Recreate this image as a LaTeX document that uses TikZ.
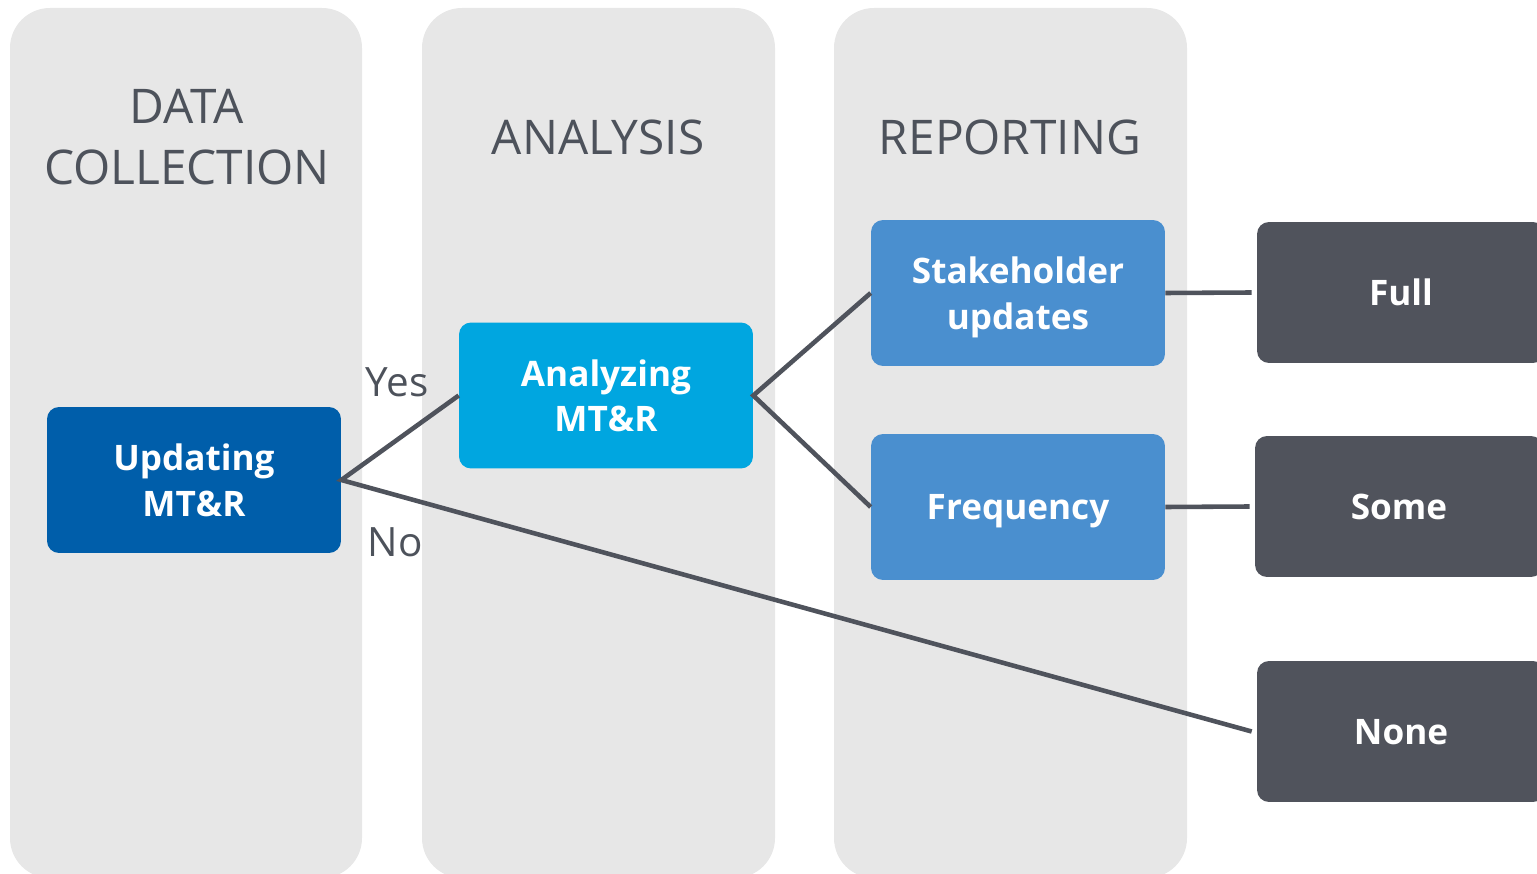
\documentclass[tikz,border=0pt]{standalone}
\usepackage{fontspec}
\setmainfont{Open Sans}
\definecolor{colbg}{HTML}{E7E7E7}
\definecolor{txtgray}{HTML}{4D525B}
\definecolor{dkbox}{HTML}{50535C}
\definecolor{lnc}{HTML}{4F535C}
\definecolor{dblue}{HTML}{005EAA}
\definecolor{cblue}{HTML}{00A6E0}
\definecolor{mblue}{HTML}{4A8FCF}
\tikzset{
  column/.style={fill=colbg, rounded corners=0.8cm},
  title/.style={text=txtgray, font=\fontsize{27.2}{34.6}\selectfont, align=center},
  box/.style={rounded corners=0.24cm, minimum width=5.88cm, minimum height=2.92cm, text=white, align=center, font=\fontsize{20}{26}\selectfont\bfseries, inner sep=0pt, text depth=0pt},
  outbox/.style={box, fill=dkbox, minimum width=5.76cm, minimum height=2.82cm},
  conn/.style={draw=lnc, line width=2.6pt},
  lbl/.style={text=txtgray, font=\fontsize{23}{28}\selectfont, inner sep=0pt}
}
\begin{document}
\begin{tikzpicture}[x=0.02cm, y=-0.02cm]
\useasboundingbox (0,0) rectangle (1537,874);
\clip (0,0) rectangle (1537,874);
\fill[column] (10,8) rectangle (362,878);
\fill[column] (422,8) rectangle (775,878);
\fill[column] (834,8) rectangle (1187,878);
\node[title] (t1) at (187,137) {DATA\\COLLECTION};
\node[title] (t2) at (598,137) {ANALYSIS};
\node[title] (t3) at (1010,137) {REPORTING};
\node[box, fill=dblue] (upd) at (194,480) {Updating\\MT\&R};
\node[box, fill=cblue] (ana) at (606,395.5) {Analyzing\\MT\&R};
\node[box, fill=mblue] (stk) at (1018,293) {Stakeholder\\updates};
\node[box, fill=mblue] (frq) at (1018,507) {Frequency};
\node[outbox] (full) at (1401,292.5) {Full};
\node[outbox] (some) at (1399,506.5) {Some};
\node[outbox] (none) at (1401,731.5) {None};
\coordinate (fullin) at ([xshift=-0.1cm]full.west);
\coordinate (somein) at ([xshift=-0.1cm]some.west);
\coordinate (nonein) at ([xshift=-0.1cm]none.west);
\draw[conn] (ana.west) -- (upd.east) -- (nonein);
\draw[conn] (stk.west) -- (ana.east) -- (frq.west);
\draw[conn] (stk.east) -- (fullin);
\draw[conn] (frq.east) -- (somein);
\node[lbl] (yes) at (397,382) {Yes};
\node[lbl] (no) at (395,542) {No};
\end{tikzpicture}
\end{document}
